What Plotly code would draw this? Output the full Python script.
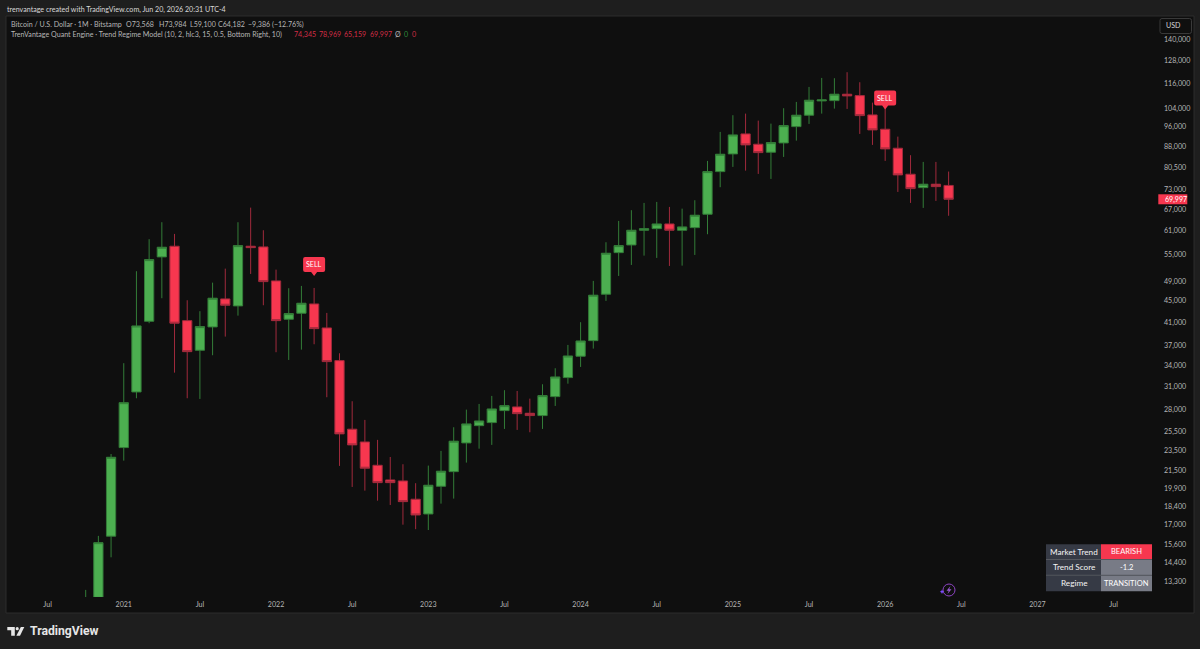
import math
import plotly.graph_objects as go

# Monthly Heikin-Ashi style bars, Oct 2020 through Jun 2026
open_ = [11480,12390,16170,23770,30280,41180,54480,57070,41290,36300,
         40180,45380,44020,57070,56900,49080,41540,42640,44400,40000,
         34700,25750,24360,22010,20650,20560,18990,17810,20090,21410,
         24260,26150,26500,27920,28370,27600,27320,29670,32230,35370,
         37850,46320,55500,57390,61180,61610,62880,61180,61880,65590,
         78950,85270,93020,88940,85900,89440,96020,100900,107370,107510,
         110550,109880,101030,94940,87410,78060,73640,74740,74345]
high = [12800,16190,23120,34310,51190,58840,63350,60210,45120,43020,
        48710,51770,63350,67500,61180,51550,47540,48020,47600,42700,
        35830,29080,26810,24580,22820,22110,20360,21980,23430,25970,
        28040,28740,29760,30510,30410,29410,31310,33570,37150,41010,
        49080,58070,63710,66750,68900,69200,67710,67210,69710,82710,
        93830,100900,101600,98560,97280,104020,106910,114110,118670,118520,
        121650,116470,106580,104150,91930,84790,82350,82350,78969]
low = [10750,11630,14750,22460,29460,40830,45520,32930,29460,29370,
       35520,38520,42200,50590,44150,35990,34800,36400,37260,29590,
       21950,20030,19710,18870,18520,17000,16670,16610,18630,19040,
       22270,23660,24050,25780,25670,25410,25780,28490,31390,33760,
       36560,44990,50150,52610,54780,54240,52380,52450,54950,60130,
       73770,80580,79290,78160,76480,84160,90340,97150,101600,103840,
       103700,93020,88670,82710,72280,68900,67420,69500,65159]
close = [12040,15720,22790,28900,40350,53840,56820,40830,36080,40230,
         45520,44150,57220,56720,48930,41290,42570,44540,39880,34550,
         25230,24050,21730,20410,20410,18790,17730,20180,21450,24440,
         26350,26690,28120,28530,27550,27320,29800,32320,35410,37800,
         46120,55360,57220,61180,61610,62880,61180,62070,65310,78950,
         85150,92610,88670,85750,89560,96440,100900,107700,107840,110550,
         109730,100720,94650,87140,77820,73320,74740,73960,69997]

price_ticks = [140000,128000,116000,104000,96000,88000,80500,73000,67000,61000,
               55000,49000,45000,41000,37000,34000,31000,28000,25500,23500,
               21500,19900,18400,17000,15600,14400,13300]
time_ticks = [(2020,7),(2021,1),(2021,7),(2022,1),(2022,7),(2023,1),(2023,7),
              (2024,1),(2024,7),(2025,1),(2025,7),(2026,1),(2026,7),(2027,1),(2027,7)]
time_labels = ["Jul","2021","Jul","2022","Jul","2023","Jul","2024","Jul",
               "2025","Jul","2026","Jul","2027","Jul"]

sell_months = [(2022,4),(2026,1)]
sell_levels = [50150,103390]

regime_rows = ["Market Trend","Trend Score","Regime"]
regime_vals = ["BEARISH","-1.2","TRANSITION"]

FRAME = "#1e1e1e"
PANE = "#0f0f0f"
GREEN = "#4caf50"
RED = "#f7374f"
TEXT = "#b6b6b6"
FONT = "Lato"
SMALL = 7.1
L, R, T, B = 6, 1158, 16, 597


def bar_index(year, month):
    return (year - 2020) * 12 + month - 10


def px(x):
    return (x - L) / (R - L)


def py(y):
    return 1 - (y - T) / (B - T)


def pt(x, y):
    return f"{px(x):.5f},{py(y):.5f}"


def rounded(x0, y0, x1, y1, r):
    return (f"M{pt(x0+r,y0)} L{pt(x1-r,y0)} Q{pt(x1,y0)} {pt(x1,y0+r)} "
            f"L{pt(x1,y1-r)} Q{pt(x1,y1)} {pt(x1-r,y1)} L{pt(x0+r,y1)} "
            f"Q{pt(x0,y1)} {pt(x0,y1-r)} L{pt(x0,y0+r)} Q{pt(x0,y0)} {pt(x0+r,y0)} Z")


def poly(points):
    return "M" + " L".join(pt(x, y) for x, y in points) + " Z"


shapes = []
notes = []


def box(x0, y0, x1, y1, fill, line=None, layer="above"):
    shapes.append(dict(type="rect", xref="paper", yref="paper", x0=px(x0), x1=px(x1),
                       y0=py(y1), y1=py(y0), fillcolor=fill, layer=layer,
                       line=dict(color=line or fill, width=1 if line else 0)))


def note(x, y, text, color=TEXT, size=SMALL, anchor="left", family=FONT):
    notes.append(dict(xref="paper", yref="paper", x=px(x), y=py(y), text=text,
                      showarrow=False, xanchor=anchor, yanchor="middle", borderpad=0,
                      font=dict(family=family, size=size, color=color)))


# pane behind the series and the price/time scales
box(6, 16, 1194, 613, PANE, "#2c2c2c", layer="below")

fig = go.Figure(go.Candlestick(
    x=[bar_index(2020, 10) + i for i in range(len(open_))],
    open=open_, high=high, low=low, close=close,
    whiskerwidth=0,
    increasing=dict(fillcolor=GREEN, line=dict(color="#337d38", width=1)),
    decreasing=dict(fillcolor=RED, line=dict(color="#a02a3c", width=1)),
    hoverinfo="skip",
))

# SELL flags, drawn relative to the level they point at
flag = ("M -9 4 Q -11 4 -11 6 L -11 17 Q -11 19 -9 19 L 9 19 Q 11 19 11 17 L 11 6 "
        "Q 11 4 9 4 L 3 4 L 0 0 L -3 4 Z")
for when, level in zip(sell_months, sell_levels):
    i = bar_index(*when)
    shapes.append(dict(type="path", xref="x", yref="y", xsizemode="pixel", ysizemode="pixel",
                       xanchor=i, yanchor=level, path=flag, fillcolor=RED, line=dict(width=0),
                       layer="above"))
    notes.append(dict(xref="x", yref="y", x=i, y=math.log10(level), yshift=11.5, text="SELL",
                      showarrow=False, font=dict(family=FONT, size=SMALL, color="#ffffff")))

# header and legend lines
note(6, 9, "trenvantage created with TradingView.com, Jun 20, 2026 20:31 UTC-4", "#d8d8d8")
note(10.3, 24.3, "Bitcoin / U.S. Dollar · 1M · Bitstamp")
note(124.7, 24.3, "O73,568")
note(157.7, 24.3, "H73,984")
note(188.5, 24.3, "L59,100")
note(216.7, 24.3, "C64,182")
note(246.7, 24.3, "−9,386 (−12.76%)")
note(10.3, 34.3, "TrenVantage Quant Engine · Trend Regime Model (10, 2, hlc3, 15, 0.5, Bottom Right, 10)")
for x, v in zip((293.3, 318.3, 343.3, 369), (open_[-1], high[-1], low[-1], close[-1])):
    note(x, 34.3, f"{v:,}", "#d22d45")
note(394.3, 34.3, "Ø")
note(402.7, 34.3, "0", "#2e8b3a")
note(411, 34.3, "0", "#d22d45")

# currency button
shapes.append(dict(type="path", xref="paper", yref="paper", path=rounded(1160, 18.5, 1191.5, 33.5, 2),
                   fillcolor=PANE, line=dict(color="#3a3a3a", width=1)))
note(1165.3, 26, "USD", "#d8d8d8")

# last-price tag on the scale
shapes.append(dict(type="path", xref="paper", yref="y", xsizemode="pixel", ysizemode="pixel",
                   xanchor=px(1158), yanchor=close[-1],
                   path="M 0.3 -5 L 29.3 -5 L 29.3 5 L 0.3 5 Z", fillcolor=RED, line=dict(width=0)))
notes.append(dict(xref="paper", yref="y", x=px(1163.3), y=math.log10(close[-1]), xanchor="left",
                  text=f"{close[-1]:,}", showarrow=False,
                  font=dict(family=FONT, size=SMALL, color="#ffffff")))

# regime table, bottom right
row_edges = [544.3, 559.6, 575.3, 591.3]
for k, (name, val) in enumerate(zip(regime_rows, regime_vals)):
    top, bottom = row_edges[k], row_edges[k + 1]
    box(1046, top, 1101, bottom, "#363a45")
    box(1101, top, 1152, bottom, RED if k == 0 else "#787b86")
    mid = (top + bottom) / 2
    note(1073.5, mid, name, "#f4f4f4", 8.2, "center")
    note(1126.5, mid, val, "#ffffff", 7.5, "center")
    if k:
        box(1046, top - 0.5, 1152, top + 0.5, "#55585f")

# assistant badge near the latest bar
shapes.append(dict(type="circle", xref="paper", yref="paper", x0=px(943), x1=px(955),
                   y0=py(596), y1=py(584), line=dict(color="#8e44c4", width=1)))
shapes.append(dict(type="path", xref="paper", yref="paper",
                   path=poly([(950.5, 586), (946.5, 590.7), (948.8, 590.7), (947.5, 594),
                              (951.5, 589.3), (949.2, 589.3)]),
                   fillcolor="#9b59d6", line=dict(width=0)))
shapes.append(dict(type="path", xref="paper", yref="paper",
                   path=poly([(942, 589.5), (942.7, 591), (944.2, 591.7), (942.7, 592.4),
                              (942, 594), (941.3, 592.4), (939.8, 591.7), (941.3, 591)]),
                   fillcolor="#7c4dff", line=dict(width=0)))

# wordmark in the footer
for path in (poly([(7.3, 627), (14.8, 627), (14.8, 635.7), (11.2, 635.7), (11.2, 630.3), (7.3, 630.3)]),
             poly([(24.3, 627), (20.8, 627), (16.4, 635.7), (20, 635.7)])):
    shapes.append(dict(type="path", xref="paper", yref="paper", path=path,
                       fillcolor="#e6e6e6", line=dict(width=0)))
shapes.append(dict(type="circle", xref="paper", yref="paper", x0=px(15.6), x1=px(18.8),
                   y0=py(630.3), y1=py(627), fillcolor="#e6e6e6", line=dict(width=0)))
note(28.5, 631, "<b>TradingView</b>", "#e6e6e6", 12.2, family="Roboto")

fig.update_layout(
    width=1200, height=649,
    autosize=False,
    margin=dict(l=L, r=1200 - R, t=T, b=649 - B, pad=0),
    paper_bgcolor=FRAME,
    plot_bgcolor=PANE,
    boxgap=0.27,
    boxgroupgap=0,
    showlegend=False,
    shapes=shapes,
    annotations=notes,
    xaxis=dict(
        range=[-6.28, 84.5], rangeslider=dict(visible=False), showgrid=False, zeroline=False,
        showline=False, ticks="", tickmode="array",
        tickvals=[bar_index(*t) for t in time_ticks], ticktext=time_labels,
        tickfont=dict(family=FONT, size=SMALL, color=TEXT), ticklabelstandoff=2,
    ),
    yaxis=dict(
        type="log", side="right", range=[4.0938, 5.1913], showgrid=False, zeroline=False,
        showline=False, ticks="", tickmode="array", tickvals=price_ticks,
        ticktext=[f"{v:,}" for v in price_ticks],
        tickfont=dict(family=FONT, size=SMALL, color=TEXT), ticklabelstandoff=5,
    ),
)

fig.write_html("out.html")
